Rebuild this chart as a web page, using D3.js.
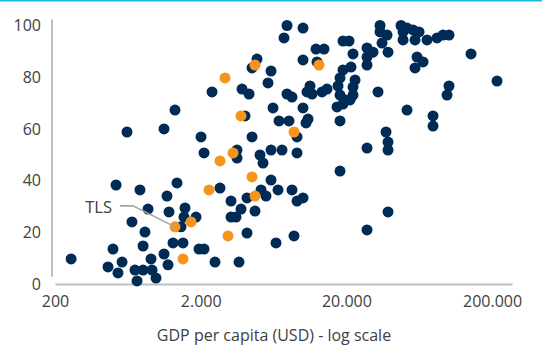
<!DOCTYPE html>
<html>
<head>
<meta charset="utf-8">
<script src="https://cdn.jsdelivr.net/npm/d3@7"></script>
<style>
  html, body { margin: 0; padding: 0; background: #ffffff; }
  svg { display: block; }
  text { font-family: "Open Sans", "Noto Sans", sans-serif; fill: #404040; }
</style>
</head>
<body>
<svg id="chart" width="542" height="347"></svg>
<script>
// ---- data ----
// Dark series: GDP per capita (USD) and indicator value (0-100)
const darkGdp = [258, 462, 500, 525, 541, 577, 624, 675, 708, 731, 766, 804, 804, 829, 870, 912, 927, 987, 1120, 1120,
  1174, 1193, 1212, 1291, 1332, 1375, 1465, 1512, 1536, 1561, 1857, 1947, 2108, 2010, 2108, 2392, 2507, 2713, 3229, 3229,
  3495, 3550, 3550, 3664, 3782, 3842, 4028, 4158, 4158, 4293, 4501, 4501, 4719, 4870, 5106, 5188, 5354, 5614, 5794, 6075,
  6075, 6075, 6270, 6574, 6786, 6894, 7228, 7460, 7822, 7822, 8072, 8464, 8464, 8738, 9162, 9162, 9162, 10074, 10074, 10074,
  10074, 10562, 10900, 11252, 10730, 11614, 12370, 12568, 13600, 14038, 14718, 18956, 21500, 18078, 22920, 17516, 22200, 18078, 22200, 19562,
  21180, 17240, 18956, 18078, 18956, 20840, 22200, 18078, 27700, 30460, 27700, 27700, 34020, 34020, 38000, 35100, 38600, 47420, 52120, 57300,
  63020, 48940, 59140, 71500, 83740, 92060, 101220, 61040, 67120, 59140, 143280, 32960, 101220, 98080, 216100, 52120, 78600, 78600, 37400, 38600,
  38600, 27700, 38600, 27700, 48940];
const darkValue = [9.7, 6.6, 13.5, 38.3, 4.3, 8.5, 58.8, 24.0, 5.4, 1.2, 36.4, 14.7, 5.4, 20.1, 29.0, 9.7, 5.4, 2.3, 11.6, 60.0,
  34.0, 7.4, 27.9, 15.9, 67.3, 39.1, 22.1, 15.9, 25.9, 29.4, 25.9, 13.5, 13.5, 56.9, 50.7, 74.3, 8.5, 37.1, 32.1, 25.9,
  25.9, 51.8, 48.7, 8.5, 29.0, 75.4, 65.0, 33.3, 19.7, 73.5, 83.6, 56.9, 28.2, 87.0, 49.9, 36.4, 46.8, 34.0, 77.8, 82.4,
  51.8, 40.2, 68.1, 15.9, 36.4, 63.1, 51.8, 95.2, 100, 73.5, 63.1, 72.3, 36.4, 18.6, 56.9, 50.7, 32.1, 99.0, 86.7, 68.1,
  33.3, 62.3, 63.8, 76.6, 74.3, 73.5, 90.9, 85.9, 74.3, 90.9, 75.4, 82.8, 83.9, 79.7, 78.9, 76.6, 76.2, 73.1, 73.1, 71.2,
  71.2, 68.5, 69.6, 63.1, 94.0, 94.0, 89.0, 43.7, 91.3, 89.7, 87.8, 84.7, 100, 97.5, 96.3, 93.2, 89.7, 100, 99.0, 98.3,
  97.5, 94.4, 94.4, 94.4, 95.2, 96.3, 96.3, 87.8, 85.9, 83.6, 89.0, 74.3, 76.6, 73.1, 78.5, 67.3, 65.0, 61.1, 58.8, 54.9,
  51.8, 52.6, 27.9, 20.9, 97.5];

// Highlighted (orange) series
const hiGdp   = [12970, 4719, 2936, 3782, 8738, 3333, 2713, 4501, 2281, 4719, 1716, 1332, 3079, 1512];
const hiValue = [84.7, 84.7, 79.7, 65.0, 58.8, 50.7, 47.6, 41.4, 36.4, 34.0, 24.0, 22.1, 18.6, 9.7];

// Labelled point
const labelText = "TLS";
const labelGdp = 1332;
const labelValue = 22.1;

// Axes
const xTicks = [200, 2000, 20000, 200000];
const yTicks = [0, 20, 40, 60, 80, 100];
const xTitle = "GDP per capita (USD) - log scale";

// ---- drawing ----
const svg = d3.select("#chart");
const navy = "#002b55";
const orange = "#f7941d";
const axisGrey = "#bfbfbf";

const x = d3.scaleLog().domain([200, 273800]).range([55, 512]);
const y = d3.scaleLinear().domain([0, 100]).range([284, 25.5]);

// top accent line
svg.append("rect").attr("x", 0).attr("y", 0).attr("width", 542).attr("height", 1.5).attr("fill", "#1db4e8");

const loc = d3.formatLocale({decimal: ",", thousands: ".", grouping: [3], currency: ["", ""]});
const fmt = loc.format(",d");

// x axis
const gx = svg.append("g").attr("transform", "translate(0,284)")
  .call(d3.axisBottom(x).tickValues(xTicks).tickFormat(fmt).tickSize(0).tickSizeOuter(0).tickPadding(12));
gx.select(".domain").attr("stroke", axisGrey).attr("stroke-width", 2);
gx.selectAll("text").attr("font-size", 16).attr("font-family", null).attr("fill", "#404040");

// y axis
const gy = svg.append("g").attr("transform", "translate(52,0)")
  .call(d3.axisLeft(y).tickValues(yTicks).tickSize(0).tickPadding(11));
gy.select(".domain").remove();
gy.selectAll("text").attr("font-size", 16).attr("font-family", null).attr("fill", "#404040");
gy.append("line").attr("x1", 0).attr("x2", 0)
  .attr("y1", y(102.3)).attr("y2", y(2.8))
  .attr("stroke", axisGrey).attr("stroke-width", 2);

// points
const dark = darkGdp.map((g, i) => ({g, v: darkValue[i]}));
const hi = hiGdp.map((g, i) => ({g, v: hiValue[i]}));

svg.append("g").selectAll("circle").data(dark).join("circle")
  .attr("cx", d => x(d.g)).attr("cy", d => y(d.v)).attr("r", 5.5).attr("fill", navy);
svg.append("g").selectAll("circle").data(hi).join("circle")
  .attr("cx", d => x(d.g)).attr("cy", d => y(d.v)).attr("r", 5.5).attr("fill", orange);

// label + leader
const lx = x(labelGdp), ly = y(labelValue);
svg.append("path")
  .attr("d", `M${lx - 55},${ly - 21}L${lx - 42},${ly - 21}L${lx},${ly}`)
  .attr("fill", "none").attr("stroke", "#a6a6a6").attr("stroke-width", 1.6);
svg.append("text").attr("x", lx - 63).attr("y", ly - 14).attr("text-anchor", "end")
  .attr("font-size", 16.5).text(labelText);

// x title
svg.append("text").attr("x", 274).attr("y", 341).attr("text-anchor", "middle")
  .attr("font-size", 16).text(xTitle);
</script>
</body>
</html>
